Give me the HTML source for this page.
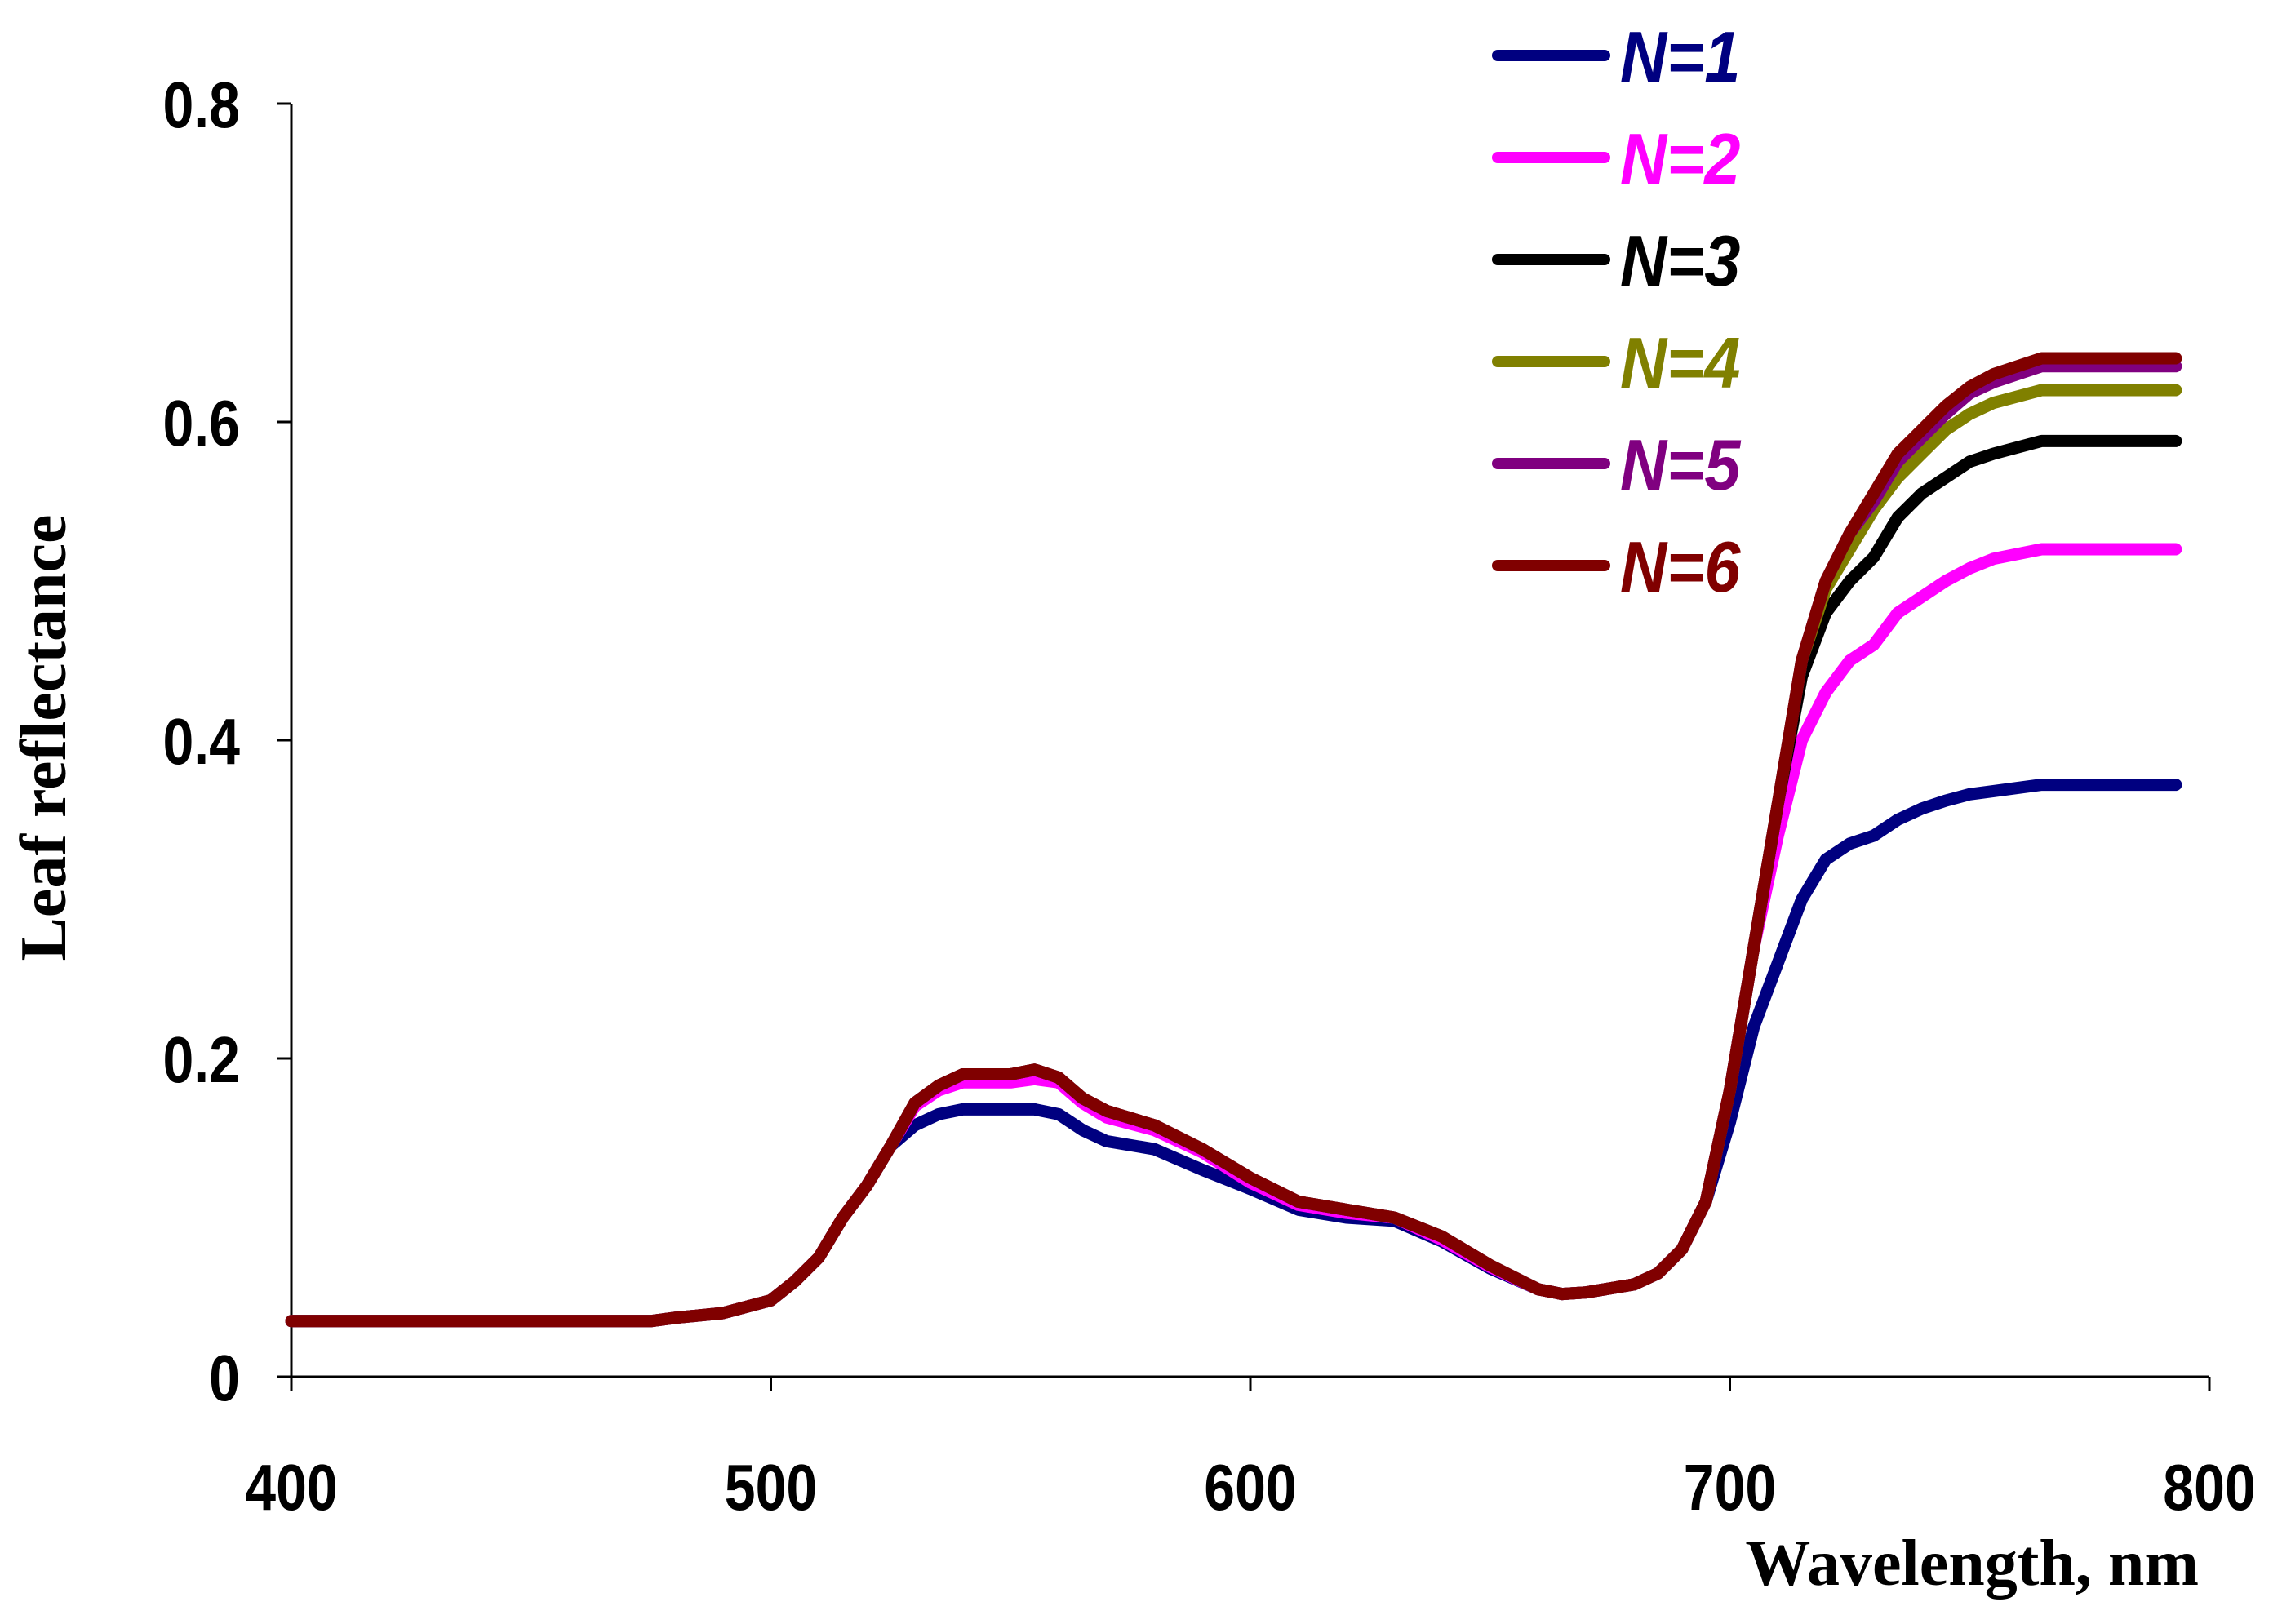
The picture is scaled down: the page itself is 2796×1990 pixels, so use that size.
<!DOCTYPE html>
<html><head><meta charset="utf-8"><style>
html,body{margin:0;padding:0;background:#fff;}
svg{display:block;}
</style></head><body>
<svg id="chart" width="2796" height="1990" viewBox="0 0 2796 1990" xmlns="http://www.w3.org/2000/svg">
<g id="axes"></g>
<g id="series"></g>
<g id="legend"></g>
<text x="2694" y="1942" text-anchor="end" font-family="Liberation Serif, serif" font-weight="bold" font-size="80">Wavelength, nm</text>
<text transform="translate(80,904) rotate(-90)" text-anchor="middle" font-family="Liberation Serif, serif" font-weight="bold" font-size="80">Leaf reflectance</text>
</svg>
<script>
const wavelengths = [400,475,480,490,500,505,510,515,520,525,530,535,540,550,555,560,565,570,580,590,600,610,620,630,640,650,660,665,670,680,685,690,695,700,705,710,715,720,725,730,735,740,745,750,755,765,793];
const base = [0.035,0.035,0.037,0.040,0.048,0.060,0.075,0.100,0.120,0.145];
const mid = [0.118,0.105,0.100,0.098,0.085,0.068,0.055,0.052,0.053,0.058,0.065,0.080,0.110];
const n1 = [...base,0.158,0.165,0.168,0.168,0.168,0.165,0.155,0.148,0.143,0.130,...mid,0.160,0.220,0.260,0.300,0.325,0.335,0.340,0.350,0.357,0.362,0.366,0.368,0.372,0.372];
const n2 = [...base,0.170,0.180,0.185,0.185,0.187,0.185,0.172,0.163,0.155,0.141,0.122,0.108,0.103,0.100,0.086,0.069,0.055,0.052,0.053,0.058,0.065,0.080,0.110,0.180,0.270,0.340,0.400,0.430,0.450,0.460,0.480,0.490,0.500,0.508,0.514,0.520,0.520];
const n3 = [...base,0.172,0.183,0.190,0.190,0.193,0.188,0.175,0.167,0.158,0.143,0.125,0.110,0.105,0.100,0.088,0.070,0.055,0.052,0.053,0.058,0.065,0.080,0.110,0.180,0.270,0.360,0.440,0.480,0.500,0.515,0.540,0.555,0.565,0.575,0.580,0.588,0.588];
const n4 = [...base,0.172,0.183,0.190,0.190,0.193,0.188,0.175,0.167,0.158,0.143,0.125,0.110,0.105,0.100,0.088,0.070,0.055,0.052,0.053,0.058,0.065,0.080,0.110,0.180,0.270,0.360,0.450,0.495,0.520,0.545,0.565,0.580,0.595,0.605,0.612,0.620,0.620];
const n5 = [...base,0.172,0.183,0.190,0.190,0.193,0.188,0.175,0.167,0.158,0.143,0.125,0.110,0.105,0.100,0.088,0.070,0.055,0.052,0.053,0.058,0.065,0.080,0.110,0.180,0.270,0.360,0.450,0.500,0.530,0.550,0.575,0.590,0.605,0.618,0.625,0.635,0.635];
const n6 = [...base,0.172,0.183,0.190,0.190,0.193,0.188,0.175,0.167,0.158,0.143,0.125,0.110,0.105,0.100,0.088,0.070,0.055,0.052,0.053,0.058,0.065,0.080,0.110,0.180,0.270,0.360,0.450,0.500,0.530,0.555,0.580,0.595,0.610,0.622,0.630,0.640,0.640];
const seriesNames = ["N=1","N=2","N=3","N=4","N=5","N=6"];
const seriesColors = ["#000080","#ff00ff","#000000","#808000","#800080","#800000"];
const xTicks = [400,500,600,700,800];
const yTicks = [0,0.2,0.4,0.6,0.8];
const yTickLabels = ["0","0.2","0.4","0.6","0.8"];

const NS="http://www.w3.org/2000/svg";
const X0=357,X1=2707,Y0=1687,Y1=127;
function xs(w){return X0+(w-400)/400*(X1-X0);}
function ys(v){return Y0-v/0.8*(Y0-Y1);}
function mk(tag,attrs,parent){const e=document.createElementNS(NS,tag);for(const k in attrs)e.setAttribute(k,attrs[k]);parent.appendChild(e);return e;}
const axes=document.getElementById('axes');
let l=mk('line',{x1:X0,y1:Y0,x2:X1,y2:Y0,stroke:'#000','stroke-width':3},axes);


l=mk('line',{x1:X0,y1:Y0,x2:X0,y2:Y1,stroke:'#000','stroke-width':3},axes);


xTicks.forEach(t=>{
  const tk=mk('line',{x1:xs(t),y1:Y0,x2:xs(t),y2:Y0+18,stroke:'#000','stroke-width':3},axes);
  
  
  const tx=mk('text',{transform:'translate('+xs(t)+',1850) scale(0.85,1)','text-anchor':'middle','font-family':'Liberation Sans, sans-serif','font-weight':'bold','font-size':80},axes);
  tx.textContent=t;
  
  
});
yTicks.forEach((t,i)=>{
  const tk=mk('line',{x1:X0-18,y1:ys(t),x2:X0,y2:ys(t),stroke:'#000','stroke-width':3},axes);
  
  
  const tx=mk('text',{transform:'translate(294,'+(ys(t)+29)+') scale(0.85,1)','text-anchor':'end','font-family':'Liberation Sans, sans-serif','font-weight':'bold','font-size':80},axes);
  tx.textContent=yTickLabels[i];
  
  
});
const data=[n1,n2,n3,n4,n5,n6];
const sg=document.getElementById('series');
data.forEach((arr,i)=>{
  const d=arr.map((v,j)=>(j?'L':'M')+xs(wavelengths[j]).toFixed(1)+','+ys(v).toFixed(1)).join(' ');
  const p=mk('path',{d:d,fill:'none',stroke:seriesColors[i],'stroke-width':15,'stroke-linejoin':'round','stroke-linecap':'round'},sg);
  
  
});
const lg=document.getElementById('legend');
seriesNames.forEach((n,i)=>{
  const y=68+i*125;
  const ln=mk('line',{x1:1835,y1:y,x2:1966,y2:y,stroke:seriesColors[i],'stroke-width':14,'stroke-linecap':'round'},lg);
  
  
  const tx=mk('text',{transform:'translate(1985,'+(y+32)+') scale(0.9,1)','font-family':'Liberation Sans, sans-serif','font-weight':'bold','font-style':'italic','font-size':88,fill:seriesColors[i]},lg);
  tx.textContent=n;
  
  
});
</script>
</body></html>
